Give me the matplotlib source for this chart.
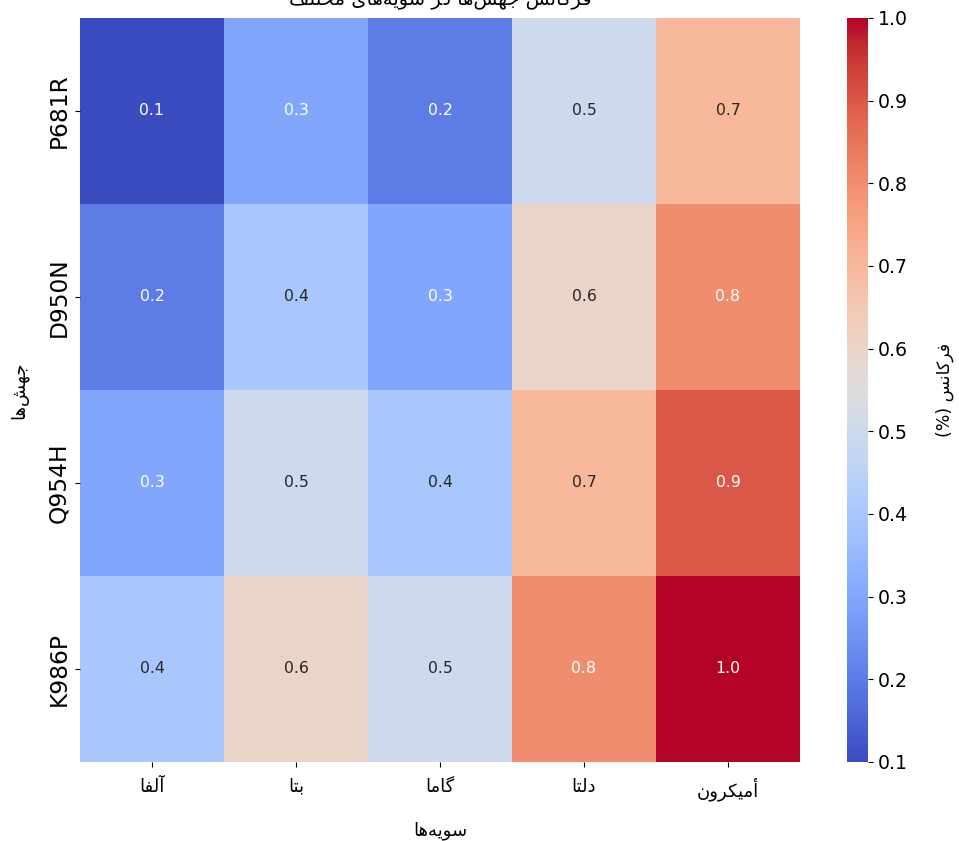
import numpy as np
import pandas as pd
import matplotlib
matplotlib.use('Agg')
import matplotlib.pyplot as plt
import seaborn as sns


def rtl(s):
    # متن از قبل شکل‌دهی شده، فقط ترتیب نمایش برعکس می‌شود
    return s[::-1]


# نام سویه‌ها (شکل‌دهی شده با فرم‌های نمایشی عربی)
strains = [
    rtl('\ufe81\ufedf\ufed4\ufe8e'),                          # آلفا
    rtl('\ufe91\ufe98\ufe8e'),                                # بتا
    rtl('\ufb94\ufe8e\ufee3\ufe8e'),                          # گاما
    rtl('\ufea9\ufedf\ufe98\ufe8e'),                          # دلتا
    rtl('\ufe83\ufee3\ufbff\ufb91\ufeae\ufeed\ufee5'),        # اُمیکرون
]
mutations = ['P681R', 'D950N', 'Q954H', 'K986P']
freq_p681r = [0.1, 0.3, 0.2, 0.5, 0.7]
freq_d950n = [0.2, 0.4, 0.3, 0.6, 0.8]
freq_q954h = [0.3, 0.5, 0.4, 0.7, 0.9]
freq_k986p = [0.4, 0.6, 0.5, 0.8, 1.0]
cbar_ticks = [0.1, 0.2, 0.3, 0.4, 0.5, 0.6, 0.7, 0.8, 0.9, 1.0]

title = rtl('\ufed3\ufeae\ufb90\ufe8e\ufee7\ufeb2 \ufe9f\ufeec\ufeb6\ufeeb\ufe8e '
            '\ufea9\ufeae \ufeb3\ufeee\ufbfe\ufeea\ufeeb\ufe8e\ufbfc \ufee3\ufea8\ufe98\ufee0\ufed2')
xlabel = rtl('\ufeb3\ufeee\ufbfe\ufeea\ufeeb\ufe8e')          # سویه‌ها
ylabel = rtl('\ufe9f\ufeec\ufeb6\ufeeb\ufe8e')                # جهش‌ها
cbar_label = '(%) ' + rtl('\ufed3\ufeae\ufb90\ufe8e\ufee7\ufeb2')  # فرکانس (%)

plt.rcParams['font.family'] = ['DejaVu Sans']

df = pd.DataFrame([freq_p681r, freq_d950n, freq_q954h, freq_k986p],
                  index=mutations, columns=strains)

fig = plt.figure(figsize=(9.59, 8.41), dpi=100)
ax = fig.add_axes([0.0834, 0.094, 0.7508, 0.8846])
cax = fig.add_axes([0.883, 0.094, 0.022, 0.8846])

sns.heatmap(df, annot=True, fmt='.1f', cmap='coolwarm', vmin=0.1, vmax=1.0,
            ax=ax, cbar_ax=cax, annot_kws={'fontsize': 11.3})

# عنوان مثل تصویر اصلی تا حد زیادی بالای لبه بریده می‌شود
ax.set_title(title, fontsize=14, pad=9)
ax.set_xlabel(xlabel, fontsize=13, labelpad=14)
ax.set_ylabel(ylabel, fontsize=13, labelpad=14)
ax.set_xticklabels(strains, rotation=0, fontsize=13)
ax.set_yticklabels(mutations, rotation=90, va='center', fontsize=16.8)
ax.tick_params(axis='x', pad=8)

cax.set_yticks(cbar_ticks)
cax.set_yticklabels([f'{t:.1f}' for t in cbar_ticks])
cax.tick_params(labelsize=13.6)
cax.set_ylabel(cbar_label, fontsize=12.5, labelpad=20)

fig.savefig('out.png', dpi=100)
